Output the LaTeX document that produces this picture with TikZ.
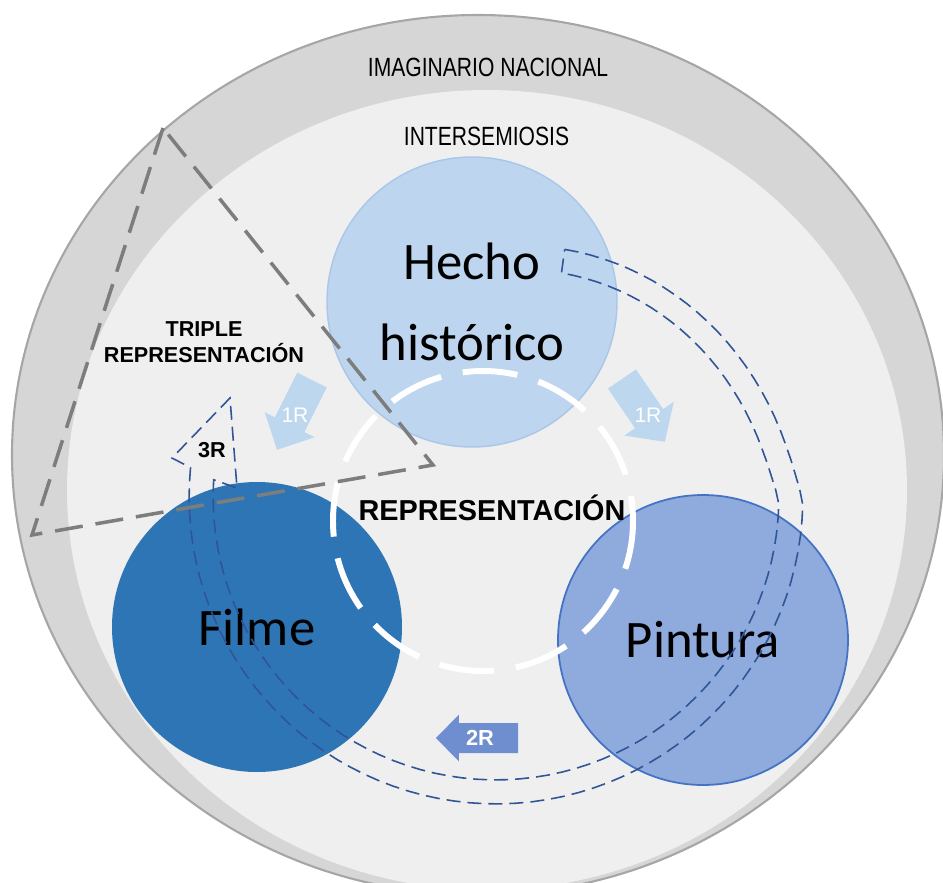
\documentclass[tikz,border=0pt]{standalone}
\usepackage{fontspec}
\setmainfont{Carlito}
\newfontfamily\arialfont{Liberation Sans}
\newfontfamily\narrowfont{Liberation Sans}[FakeStretch=0.8]
\definecolor{bandgray}{RGB}{214,214,214}
\definecolor{bandedge}{RGB}{166,166,166}
\definecolor{innergray}{RGB}{239,239,239}
\definecolor{hechofill}{RGB}{189,213,238}
\definecolor{hechoedge}{RGB}{170,198,232}
\definecolor{filmefill}{RGB}{46,117,182}
\definecolor{pinturafill}{RGB}{143,170,220}
\definecolor{pinturaedge}{RGB}{68,114,196}
\definecolor{arrowlight}{RGB}{189,215,238}
\definecolor{arrowmid}{RGB}{111,142,207}
\definecolor{loopblue}{RGB}{47,85,151}
\definecolor{trigray}{RGB}{125,125,125}
\tikzset{
  pics/blockarrow/.style n args={4}{code={
      \fill[pic actions] (0,-#2) -- ({#1-#4},-#2) -- ({#1-#4},-#3) -- (#1,0)
        -- ({#1-#4},#3) -- ({#1-#4},#2) -- (0,#2) -- cycle;
  }},
  declare function={looprad(\t)=3.07-0.5*(max(\t,0.01)/74.5)^0.7;},
}
\begin{document}
\begin{tikzpicture}[
    circ/.style={circle, minimum size=2.9cm, inner sep=0pt, align=center,
      font=\fontsize{15}{23}\selectfont},
    capfont/.style={font=\narrowfont\fontsize{7.5}{9}\selectfont},
    boldlabel/.style={font=\arialfont\bfseries\fontsize{6.15}{7.4}\selectfont, align=center},
    onelabel/.style={font=\arialfont\fontsize{6}{7}\selectfont, text=white},
    loopdash/.style={draw=loopblue, line width=0.45pt, dash pattern=on 0.14cm off 0.07cm},
    tridash/.style={draw=trigray, line width=1pt, dash pattern=on 0.28cm off 0.13cm}
  ]
  \useasboundingbox (0,0) rectangle (9.43,8.82);
  \clip (0,0) rectangle (9.43,8.82);
  \filldraw[fill=bandgray, draw=bandedge, line width=0.6pt] (4.78,4.27) ellipse (4.66 and 4.40);
  \fill[innergray] (4.87,3.92) ellipse (4.20 and 4.00);
  \node[capfont] (imaginario) at (4.88,8.145) {IMAGINARIO NACIONAL};
  \node[capfont] (intersemiosis) at (4.865,7.455) {INTERSEMIOSIS};
  \node[circ, fill=hechofill, draw=hechoedge] (hecho) at (4.72,5.80) {Hecho\\histórico};
  \node[circ, fill=filmefill] (filme) at (2.57,2.55) {Filme};
  \node[circ, fill=pinturafill, draw=pinturaedge, line width=0.5pt] (pintura) at (7.03,2.42) {Pintura};
  \node[circle, minimum size=3cm, draw=white, line width=1.7pt,
    dash pattern=on 0.55cm off 0.22cm, dash phase=0.3cm] (repr) at (4.83,3.61) {};
  \node[boldlabel, font=\arialfont\bfseries\fontsize{8.2}{10}\selectfont] (reprtext) at (4.92,3.74) {REPRESENTACIÓN};
  \node[boldlabel] (triple) at (2.04,5.395) {TRIPLE\\REPRESENTACIÓN};
  \pic[fill=arrowlight, rotate=243.4] at (3.12,5.02) {blockarrow={0.78}{0.165}{0.28}{0.28}};
  \node[onelabel] (oneRleft) at (2.95,4.67) {1R};
  \pic[fill=arrowlight, rotate=-55.7] at (6.22,5.03) {blockarrow={0.76}{0.17}{0.30}{0.28}};
  \node[onelabel] (oneRright) at (6.48,4.67) {1R};
  \pic[fill=arrowmid, rotate=180] at (5.18,1.44) {blockarrow={0.82}{0.15}{0.235}{0.23}};
  \node[onelabel, font=\arialfont\bfseries\fontsize{6.2}{7}\selectfont] (twoR) at (4.80,1.44) {2R};
  \coordinate (loopC) at (4.96,3.85);
  \draw[loopdash]
    plot[domain=74.5:-185.5, samples=90] ({4.96+looprad(\x)*cos(\x)}, {3.85+looprad(\x)*sin(\x)})
    -- (1.72,4.24) -- (2.30,4.84) -- (2.37,3.94)
    -- plot[domain=-183.5:73.7, samples=90] ({4.96+(looprad(\x)-0.24)*cos(\x)}, {3.85+(looprad(\x)-0.24)*sin(\x)})
    -- cycle;
  \node[boldlabel] (threeR) at (2.12,4.315) {3R};
  \coordinate (triTop) at (1.63,7.54);
  \coordinate (triLeft) at (0.32,3.47);
  \coordinate (triRight) at (4.33,4.17);
  \draw[tridash] (triTop) -- (triLeft) -- (triRight) -- cycle;
\end{tikzpicture}
\end{document}
